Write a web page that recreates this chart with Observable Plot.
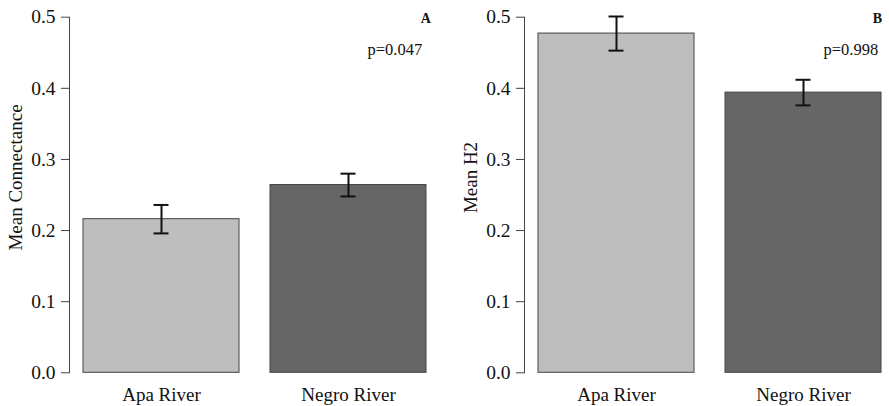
<!DOCTYPE html>
<html>
<head>
<meta charset="utf-8">
<script src="https://cdn.jsdelivr.net/npm/d3@7"></script>
<script src="https://cdn.jsdelivr.net/npm/@observablehq/plot@0.6"></script>
<style>
  html, body { margin: 0; padding: 0; background: #fff; }
  #wrap { position: relative; width: 889px; height: 406px; overflow: hidden; }
  #wrap > div { position: absolute; top: 0; width: 445px; height: 406px; }
  svg { font-family: "Liberation Serif", "Times New Roman", serif; max-width: none !important; }
  svg text { font-family: "Liberation Serif", "Times New Roman", serif !important; }
</style>
</head>
<body>
<div id="wrap"><div id="pA" style="left:0px"></div><div id="pB" style="left:455px"></div></div>
<script>
// Data
const rivers = ["Apa River", "Negro River"];
const connectanceMean = [0.216, 0.264];
const connectanceSE = [0.020, 0.016];
const h2Mean = [0.477, 0.394];
const h2SE = [0.024, 0.018];
const barColors = ["#bebebe", "#666666"];
const yTicks = [0, 0.1, 0.2, 0.3, 0.4, 0.5];

const SERIF = '"Liberation Serif", "Times New Roman", serif';

function panel({means, ses, yLabel, letter, pText, letterDx, pDx}) {
  const data = rivers.map((r, i) => ({river: r, mean: means[i], lo: means[i] - ses[i], hi: means[i] + ses[i], color: barColors[i]}));
  const W = 445, H = 406, ML = 69, MT = 16.7, MB = 33.7, MR = W - 440.4;
  return Plot.plot({
    width: W, height: H,
    marginLeft: ML, marginRight: MR, marginTop: MT, marginBottom: MB,
    style: {fontFamily: SERIF, fontSize: "19px", background: "transparent", overflow: "visible", maxWidth: "none"},
    x: {type: "band", domain: rivers, paddingInner: 0.1667, paddingOuter: 0.072, label: null},
    y: {domain: [0, 0.5], label: null},
    marks: [
      Plot.barY(data, {x: "river", y: "mean", fill: "color", stroke: "#444", strokeWidth: 1}),
      Plot.ruleX(data, {x: "river", y1: "lo", y2: "hi", stroke: "#111", strokeWidth: 2}),
      Plot.tickY(data, {x: "river", y: "lo", stroke: "#111", strokeWidth: 2, insetLeft: 70.5, insetRight: 70.5}),
      Plot.tickY(data, {x: "river", y: "hi", stroke: "#111", strokeWidth: 2, insetLeft: 70.5, insetRight: 70.5}),
      Plot.axisY({ticks: yTicks, tickFormat: d3.format(".1f"), tickSize: 8, tickPadding: 6, fontSize: 19.5, fontFamily: SERIF, fontVariant: "normal", stroke: "#444", fill: "#111", label: null}),
      Plot.frame({anchor: "left", stroke: "#444"}),
      Plot.axisX({tickSize: 0, tickPadding: 15, fontSize: 19, fontFamily: SERIF, fill: "#111", label: null}),
      Plot.text([yLabel], {frameAnchor: "left", textAnchor: "middle", rotate: -90, dx: -54, dy: -17.5, fontSize: 19, fontFamily: SERIF, fill: "#111", lineAnchor: "middle"}),
      Plot.text([letter], {frameAnchor: "top-right", textAnchor: "end", lineAnchor: "bottom", dx: letterDx, dy: 5.5, fontSize: 14, fontFamily: SERIF, fontWeight: "bold", fill: "#111"}),
      Plot.text([pText], {frameAnchor: "top-right", textAnchor: "end", lineAnchor: "bottom", dx: pDx, dy: 37.6, fontSize: 16.5, fontFamily: SERIF, fill: "#111"})
    ]
  });
}

document.getElementById("pA").appendChild(panel({
  means: connectanceMean, ses: connectanceSE, yLabel: "Mean Connectance",
  letter: "A", pText: "p=0.047", letterDx: -10, pDx: -18.7
}));
document.getElementById("pB").appendChild(panel({
  means: h2Mean, ses: h2SE, yLabel: "Mean H2",
  letter: "B", pText: "p=0.998", letterDx: -13.7, pDx: -17.7
}));
</script>
</body>
</html>
